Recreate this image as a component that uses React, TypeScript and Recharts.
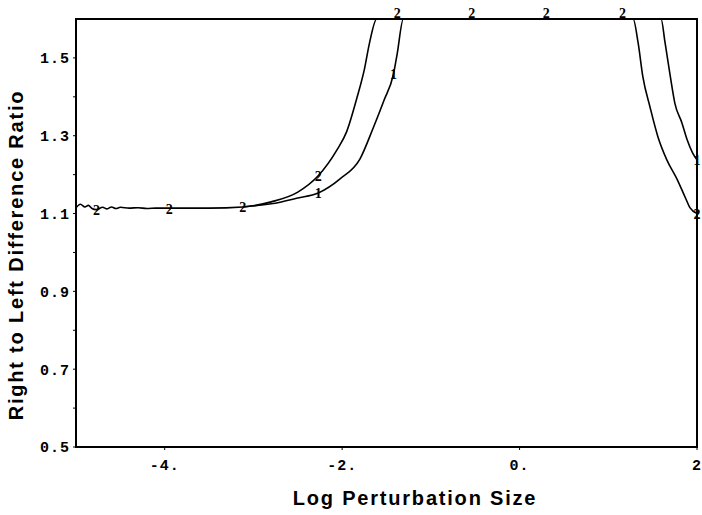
import React from "react";
import { LineChart, Line, XAxis, YAxis, ReferenceArea } from "recharts";

// series "2" (left curve rises first, right curve falls first)
const s2X = [
  -5.0, -4.95, -4.9, -4.86, -4.82, -4.77, -4.7, -4.65, -4.6, -4.55, -4.5, -4.4,
  -4.3, -4.2, -4.1, -3.95, -3.5, -3.12, -2.8, -2.5, -2.27, -2.06, -1.95, -1.83,
  -1.75, -1.69, -1.61, -1.38, -0.54, 0.3, 1.16, 1.28, 1.336, 1.39, 1.47, 1.56,
  1.66, 1.78, 1.87, 1.92, 2.0,
];
const s2Y = [
  1.115, 1.124, 1.117, 1.121, 1.113, 1.11, 1.116, 1.112, 1.117, 1.113, 1.116,
  1.114, 1.115, 1.113, 1.114, 1.114, 1.114, 1.117, 1.13, 1.155, 1.197, 1.263,
  1.31, 1.4, 1.47, 1.54, 1.6, 1.6, 1.6, 1.6, 1.6, 1.6, 1.539, 1.451, 1.374,
  1.297, 1.238, 1.186, 1.14, 1.115, 1.1,
];
const s2Marks = [-4.77, -3.95, -3.12, -2.27, -1.38, -0.54, 0.3, 1.16, 2.0];

// series "1"
const s1X = [
  -3.12, -2.8, -2.5, -2.27, -2.02, -1.8, -1.65, -1.53, -1.42, -1.38, -1.31,
  1.595, 1.64, 1.7, 1.75, 1.83, 1.89, 1.95, 2.0,
];
const s1Y = [
  1.117, 1.125, 1.14, 1.153, 1.19, 1.24, 1.32, 1.39, 1.46, 1.51, 1.6, 1.6,
  1.539, 1.451, 1.384, 1.333, 1.289, 1.256, 1.238,
];
const s1Marks = [-2.27, -1.42, 2.0];

const xTicks = [-4, -2, 0, 2];
const xTickLabels = ["-4.", "-2.", "0.", "2"];
const yTicks = [0.5, 0.6, 0.7, 0.8, 0.9, 1.0, 1.1, 1.2, 1.3, 1.4, 1.5];
const yTickLabels = ["0.5", "", "0.7", "", "0.9", "", "1.1", "", "1.3", "", "1.5"];

const data2 = s2X.map((x, i) => ({ x, y: s2Y[i] }));
const data1 = s1X.map((x, i) => ({ x, y: s1Y[i] }));

const tickFont = {
  fontFamily: "Liberation Mono",
  fontWeight: "bold",
  fontSize: 15,
  letterSpacing: 1,
  fill: "#000",
};
const titleFont = {
  fontFamily: "Liberation Sans",
  fontWeight: "bold",
  fontSize: 20,
  letterSpacing: 1.8,
  fill: "#000",
};

function markerDot(label: string, marks: number[]) {
  return (props: any) => {
    const { cx, cy, payload, index } = props;
    if (!marks.includes(payload.x)) return <g key={`n-${label}-${index}`} />;
    const top = payload.y >= 1.6;
    return (
      <text
        key={`m-${label}-${index}`}
        x={cx}
        y={top ? cy - 6 : cy + 1}
        textAnchor="middle"
        dominantBaseline="central"
        fontFamily="Liberation Serif"
        fontWeight="bold"
        fontSize={14}
        fill="#000"
      >
        {label}
      </text>
    );
  };
}

export default function App() {
  return (
    <div style={{ position: "absolute", left: 0, top: 0 }}>
      <LineChart
        width={702}
        height={515}
        margin={{ top: 19, right: 5, left: 16, bottom: 38 }}
      >
        <XAxis
          type="number"
          dataKey="x"
          domain={[-5, 2]}
          ticks={xTicks}
          tickFormatter={(v: number) => xTickLabels[xTicks.indexOf(v)] ?? ""}
          tick={tickFont}
          tickSize={3}
          tickMargin={9}
          height={30}
          axisLine={{ stroke: "#000", strokeWidth: 2 }}
          tickLine={{ stroke: "#000" }}
          label={{
            content: () => (
              <text x={415} y={505} textAnchor="middle" {...titleFont}>
                Log Perturbation Size
              </text>
            ),
          }}
        />
        <YAxis
          type="number"
          dataKey="y"
          domain={[0.5, 1.6]}
          ticks={yTicks}
          interval={0}
          tickFormatter={(v: number) =>
            yTickLabels[yTicks.findIndex((t) => Math.abs(t - v) < 1e-6)] ?? ""
          }
          tick={tickFont}
          tickSize={3}
          tickMargin={3}
          width={60}
          axisLine={{ stroke: "#000", strokeWidth: 2 }}
          tickLine={{ stroke: "#000" }}
          label={{
            content: () => (
              <text
                x={23}
                y={255}
                textAnchor="middle"
                transform="rotate(-90 23 255)"
                {...titleFont}
              >
                Right to Left Difference Ratio
              </text>
            ),
          }}
        />
        <ReferenceArea
          x1={-5}
          x2={2}
          y1={0.5}
          y2={1.6}
          fill="none"
          stroke="#000"
          strokeWidth={2}
          ifOverflow="visible"
        />
        <Line
          data={data2}
          dataKey="y"
          type="monotone"
          stroke="#000"
          strokeWidth={1.6}
          dot={markerDot("2", s2Marks)}
          activeDot={false}
          isAnimationActive={false}
        />
        <Line
          data={data1}
          dataKey="y"
          type="monotone"
          stroke="#000"
          strokeWidth={1.6}
          dot={markerDot("1", s1Marks)}
          activeDot={false}
          isAnimationActive={false}
        />
      </LineChart>
    </div>
  );
}
